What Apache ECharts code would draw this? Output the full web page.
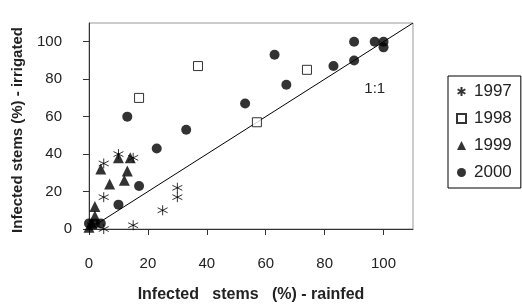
<!DOCTYPE html>
<html>
<head>
<meta charset="utf-8">
<script src="https://cdn.jsdelivr.net/npm/echarts@6/dist/echarts.min.js"></script>
<style>
  html, body { margin: 0; padding: 0; background: #fff; }
  #chart { width: 522px; height: 308px; }
</style>
</head>
<body>
<div id="chart"></div>
<script>
// rainfed (x) vs irrigated (y), % infected stems
const years = ['1997', '1998', '1999', '2000']
const data1997 = [[5, 0], [15, 2], [25, 10], [30, 17], [30, 22], [5, 17], [5, 35], [10, 40], [15, 38], [1, 2]]
const data1998 = [[17, 70], [37, 87], [57, 57], [74, 85]]
const data1999 = [[10, 38], [14, 38], [4, 32], [13, 31], [12, 26], [7, 24], [2, 12], [2, 7], [1, 3], [0, 1]]
const data2000 = [[0, 3], [2, 3], [4, 3], [10, 13], [17, 23], [23, 43], [33, 53], [13, 60], [53, 67], [63, 93],
  [67, 77], [83, 87], [90, 90], [90, 100], [97, 100], [100, 100], [100, 97]]
const oneToOne = [[0, 0], [110, 110]]
const tickValues = [0, 20, 40, 60, 80, 100]

const font = '"Liberation Sans", Arial, sans-serif'
const starPath = 'path://M5,0L5,10M0.7,2.5L9.3,7.5M0.7,7.5L9.3,2.5'

const chart = echarts.init(document.getElementById('chart'), null, { renderer: 'canvas' })

const axisCommon = {
  type: 'value',
  min: 0,
  max: 110,
  interval: 10,
  nameLocation: 'middle',
  nameTextStyle: { fontFamily: font, fontSize: 15, fontWeight: 'bold', color: '#222' },
  axisLine: { show: true, lineStyle: { color: '#333', width: 1 } },
  axisTick: { show: true, inside: false, length: 6, customValues: tickValues, lineStyle: { color: '#333' } },
  axisLabel: { customValues: tickValues, fontFamily: font, fontSize: 15, color: '#222' },
  splitLine: { show: false }
}

const option = {
  animation: false,
  grid: {
    left: 89,
    right: 109,
    top: 23,
    bottom: 74,
    show: true,
    borderColor: '#999',
    borderWidth: 1
  },
  xAxis: Object.assign({}, axisCommon, {
    name: 'Infected   stems   (%) - rainfed',
    nameGap: 58,
    nameTextStyle: Object.assign({}, axisCommon.nameTextStyle, { fontSize: 16 }),
    axisLabel: Object.assign({}, axisCommon.axisLabel, { margin: 27 })
  }),
  yAxis: Object.assign({}, axisCommon, {
    name: 'Infected stems (%) - irrigated',
    nameGap: 64,
    nameTextStyle: Object.assign({}, axisCommon.nameTextStyle, { padding: [0, 8, 0, 0] }),
    axisLabel: Object.assign({}, axisCommon.axisLabel, {
      margin: 17,
      // the 0 label sits closer to the axis than the others
      formatter: v => (v === 0 ? '{v|0}' : '{v|' + v + '}{sp|}'),
      rich: {
        v: { fontFamily: font, fontSize: 15, color: '#222' },
        sp: { width: 10 }
      }
    })
  }),
  legend: {
    data: years,
    orient: 'vertical',
    left: 448,
    top: 76,
    padding: [7, 9, 7, 8],
    itemGap: 10,
    itemWidth: 9,
    itemHeight: 9,
    borderColor: '#000',
    borderWidth: 1,
    textStyle: { fontFamily: font, fontSize: 17, color: '#222', padding: [0, 0, 0, 3] }
  },
  series: [
    {
      type: 'line',
      data: oneToOne,
      symbol: 'none',
      silent: true,
      z: 1,
      lineStyle: { color: '#000', width: 1 },
      markPoint: {
        symbol: 'circle',
        symbolSize: 0,
        data: [{ coord: [97, 75] }],
        label: { show: true, formatter: '1:1', fontFamily: font, fontSize: 15, color: '#222' }
      }
    },
    {
      name: '1997',
      type: 'scatter',
      data: data1997,
      symbol: starPath,
      symbolSize: 10,
      z: 3,
      itemStyle: { color: 'rgba(0,0,0,0)', borderColor: '#000', borderWidth: 1 }
    },
    {
      name: '1998',
      type: 'scatter',
      data: data1998,
      symbol: 'rect',
      symbolSize: 9,
      z: 3,
      itemStyle: { color: '#fff', borderColor: '#000', borderWidth: 1 }
    },
    {
      name: '1999',
      type: 'scatter',
      data: data1999,
      symbol: 'triangle',
      symbolSize: 11,
      z: 3,
      itemStyle: { color: '#000' }
    },
    {
      name: '2000',
      type: 'scatter',
      data: data2000,
      symbol: 'circle',
      symbolSize: 10,
      z: 3,
      itemStyle: { color: '#000' }
    }
  ]
}

chart.setOption(option)
</script>
</body>
</html>
